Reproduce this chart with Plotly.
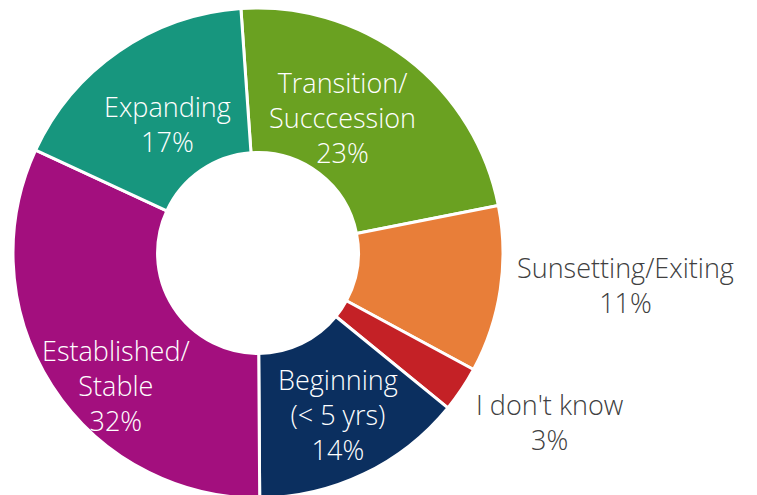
import math
import plotly.graph_objects as go

labels = ["Transition/<br>Succcession", "Sunsetting/Exiting", "I don't know",
          "Beginning<br>(< 5 yrs)", "Established/<br>Stable", "Expanding"]
values = [23, 11, 3, 14, 32, 17]
colors = ["#6aa121", "#e87e39", "#c42126", "#0b2f5f", "#a30f7e", "#17967e"]

# label styling / placement (relative to slice mid-angle and radius)
label_colors = ["#ffffff", "#404040", "#404040", "#ffffff", "#ffffff", "#ffffff"]
label_rfac = [0.653, 1.506, 1.376, 0.735, 0.792, 0.641]
label_dang = [-5.4, -3.6, -3.8, -0.9, -10.3, -0.4]

W, H = 757, 495
ROT = -4
HOLE = 0.41
dom_x = [0.0066, 0.6539]
dom_y = [0.0101, 1.0]

fig = go.Figure(go.Pie(
    labels=labels,
    values=values,
    sort=False,
    direction="clockwise",
    rotation=ROT,
    hole=HOLE,
    marker=dict(colors=colors, line=dict(color="#ffffff", width=3)),
    textinfo="none",
    domain=dict(x=dom_x, y=dom_y),
    showlegend=False,
    hoverinfo="label+percent",
))

# pie geometry in pixels (margins are zero)
cx = (dom_x[0] + dom_x[1]) / 2 * W
cy = (1 - (dom_y[0] + dom_y[1]) / 2) * H
R = min((dom_x[1] - dom_x[0]) * W, (dom_y[1] - dom_y[0]) * H) / 2

total = sum(values)
cum = 0
annotations = []
for lab, v, col, rf, da in zip(labels, values, label_colors, label_rfac, label_dang):
    mid = ROT + (cum + v / 2) / total * 360 + da
    cum += v
    a = math.radians(mid)
    px = cx + rf * R * math.sin(a)
    py = cy - rf * R * math.cos(a)
    annotations.append(dict(
        x=px / W, y=1 - py / H, xref="paper", yref="paper",
        text=f"{lab}<br>{v}%", showarrow=False, align="center",
        xanchor="center", yanchor="middle",
        font=dict(family="'Open Sans', Lato, sans-serif", size=27,
                  color=col, weight=300),
    ))

fig.update_layout(
    width=W, height=H,
    margin=dict(l=0, r=0, t=0, b=0),
    paper_bgcolor="#ffffff",
    plot_bgcolor="#ffffff",
    annotations=annotations,
)

fig.write_html("out.html")
